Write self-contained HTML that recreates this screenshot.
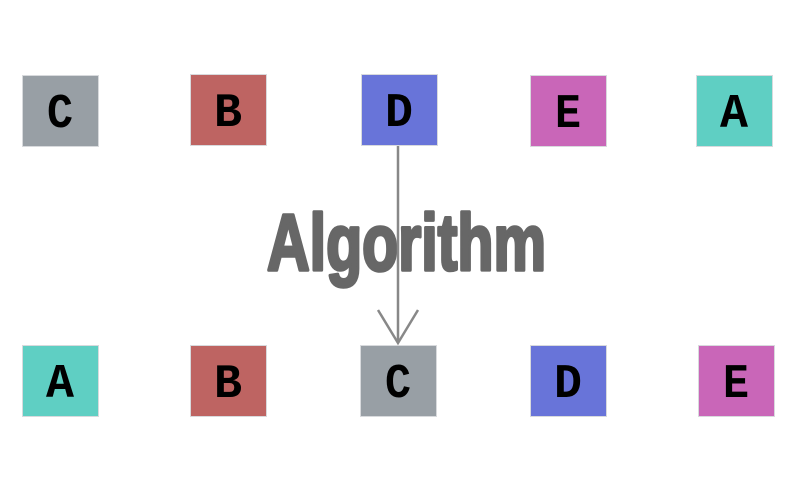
<!DOCTYPE html>
<html><head><meta charset="utf-8"><style>
html,body{margin:0;padding:0;background:#fff;}
svg{display:block}
.l{font-family:"Liberation Mono",monospace;font-weight:bold;font-size:48px;fill:#000}
</style></head><body>
<svg width="800" height="500" viewBox="0 0 800 500" xmlns="http://www.w3.org/2000/svg">
<rect width="800" height="500" fill="#fff"/>
<g stroke="#d8dadd" stroke-width="1">
<rect x="22.5" y="75.5" width="76" height="71" fill="#989fa5"/>
<rect x="190.5" y="74.5" width="76" height="71" fill="#be6462"/>
<rect x="361.5" y="74.5" width="76" height="71" fill="#6874d9"/>
<rect x="530.5" y="75.5" width="76" height="71" fill="#c966b8"/>
<rect x="696.5" y="75.5" width="76" height="71" fill="#5fcfc3"/>
<rect x="22.5" y="345.5" width="76" height="71" fill="#5fcfc3"/>
<rect x="190.5" y="345.5" width="76" height="71" fill="#be6462"/>
<rect x="360.5" y="345.5" width="76" height="71" fill="#989fa5"/>
<rect x="530.5" y="345.5" width="76" height="71" fill="#6874d9"/>
<rect x="698.5" y="345.5" width="76" height="71" fill="#c966b8"/>
</g>
<g class="l" text-anchor="middle">
<text x="60" y="127" textLength="26" lengthAdjust="spacingAndGlyphs">C</text>
<text x="228" y="126" textLength="28" lengthAdjust="spacingAndGlyphs">B</text>
<text x="399" y="126" textLength="28" lengthAdjust="spacingAndGlyphs">D</text>
<text x="568" y="127" textLength="26" lengthAdjust="spacingAndGlyphs">E</text>
<text x="734" y="127" textLength="28" lengthAdjust="spacingAndGlyphs">A</text>
<text x="60" y="397" textLength="28" lengthAdjust="spacingAndGlyphs">A</text>
<text x="228" y="397" textLength="28" lengthAdjust="spacingAndGlyphs">B</text>
<text x="398" y="397" textLength="26" lengthAdjust="spacingAndGlyphs">C</text>
<text x="568" y="397" textLength="28" lengthAdjust="spacingAndGlyphs">D</text>
<text x="736" y="397" textLength="26" lengthAdjust="spacingAndGlyphs">E</text>
</g>
<text x="267" y="270" textLength="279" lengthAdjust="spacingAndGlyphs" font-family="'Liberation Sans Narrow','Liberation Sans',sans-serif" font-weight="bold" font-size="80" fill="#676767" stroke="#676767" stroke-width="3.5" stroke-linejoin="round">Algorithm</text>
<g stroke="#888" stroke-width="2.5" fill="none">
<line x1="398" y1="146" x2="398" y2="343"/>
<polyline points="378,310 398,343 418,310"/>
</g>
</svg>
</body></html>
